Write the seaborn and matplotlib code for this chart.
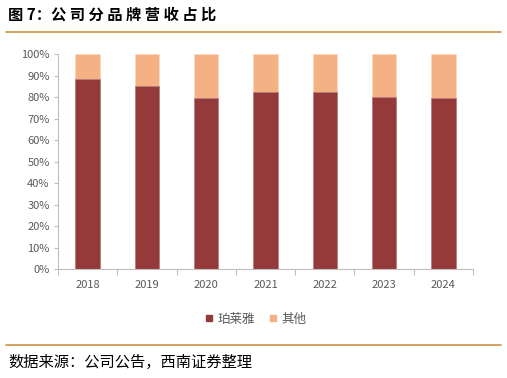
import matplotlib
matplotlib.use("Agg")
import matplotlib.pyplot as plt
import seaborn as sns
import pandas as pd
import numpy as np
from matplotlib.lines import Line2D

# --- dữ liệu ---
years = ["2018", "2019", "2020", "2021", "2022", "2023", "2024"]
pls_share = [88.7, 85.3, 79.7, 82.5, 82.5, 80.3, 79.7]     # 珀莱雅
other_share = [11.3, 14.7, 20.3, 17.5, 17.5, 19.7, 20.3]   # 其他

RED = "#943A3A"
ORANGE = "#F4B183"
GRAY = "#595959"
GOLD = "#C9953F"

sns.set_theme(style="white")
plt.rcParams['font.family'] = ['Noto Sans CJK SC', 'DejaVu Sans']
plt.rcParams['axes.unicode_minus'] = False

df = pd.DataFrame({"year": years, "pls": pls_share, "other": other_share})
df["total"] = df["pls"] + df["other"]

fig = plt.figure(figsize=(5.07, 3.78), dpi=100)
ax = fig.add_axes([0.1144, 0.2876, 0.8186, 0.5687])

# vẽ cột chồng: tổng (其他) ở dưới, 珀莱雅 đè lên
sns.barplot(data=df, x="year", y="total", color=ORANGE, width=0.41,
            saturation=1, edgecolor="#FBD9C0", linewidth=0.6, ax=ax)
sns.barplot(data=df, x="year", y="pls", color=RED, width=0.41,
            saturation=1, edgecolor="#B98080", linewidth=0.6, ax=ax)

ax.set_xlim(-0.5, len(years) - 0.5)
ax.set_ylim(0, 100)
ax.set_yticks(np.arange(0, 101, 10))
ax.set_yticklabels([f"{v}%" for v in range(0, 101, 10)])
ax.set_xlabel("")
ax.set_ylabel("")

for side in ["top", "right"]:
    ax.spines[side].set_visible(False)
for side in ["left", "bottom"]:
    ax.spines[side].set_color("#BFBFBF")
    ax.spines[side].set_linewidth(0.8)

ax.tick_params(axis="y", colors="#BFBFBF", labelcolor=GRAY, labelsize=8,
               length=3, width=0.8, direction="out", left=True, pad=3)
ax.tick_params(axis="x", which="major", length=0, labelcolor=GRAY,
               labelsize=8, pad=8)
ax.set_xticks(np.arange(-0.5, len(years), 1.0), minor=True)
ax.tick_params(axis="x", which="minor", length=4, width=0.8,
               color="#BFBFBF", direction="out", bottom=True)

handles = [
    Line2D([0], [0], marker="s", linestyle="", markersize=5,
           markerfacecolor=RED, markeredgecolor=RED, label="珀莱雅"),
    Line2D([0], [0], marker="s", linestyle="", markersize=5,
           markerfacecolor=ORANGE, markeredgecolor=ORANGE, label="其他"),
]
leg = fig.legend(handles=handles, loc="center", bbox_to_anchor=(0.503, 0.156),
                 ncol=2, frameon=False, fontsize=9, handlelength=0.8,
                 handletextpad=0.3, columnspacing=1.0)
for t in leg.get_texts():
    t.set_color(GRAY)

# tiêu đề và nguồn
fig.text(0.016, 0.96, "图 7：公 司 分 品 牌 营 收 占 比", fontsize=11,
         fontweight="bold", color="black", ha="left", va="center")
fig.add_artist(Line2D([0.012, 0.988], [0.916, 0.916], color=GOLD,
                      linewidth=1.2, transform=fig.transFigure))
fig.add_artist(Line2D([0.012, 0.988], [0.087, 0.087], color=GOLD,
                      linewidth=1.2, transform=fig.transFigure))
fig.text(0.016, 0.042, "数据来源：公司公告，西南证券整理", fontsize=11,
         fontstyle="italic", color="black", ha="left", va="center")

fig.savefig("out.png", dpi=100)
plt.close(fig)
